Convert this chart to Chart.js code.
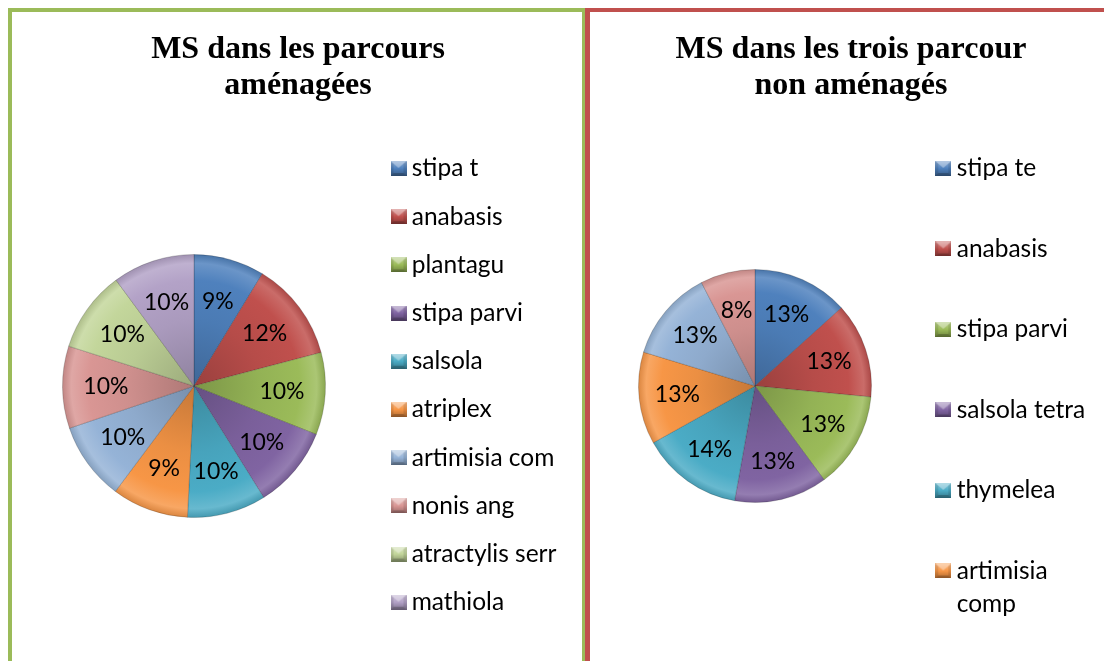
<!DOCTYPE html>
<html lang="fr">
<head>
<meta charset="utf-8">
<title>MS dans les parcours</title>
<script src="https://cdn.jsdelivr.net/npm/chart.js@4.4.1/dist/chart.umd.min.js"></script>
<style>
  html, body { margin: 0; padding: 0; background: #fff; overflow: hidden; }
  body { width: 1104px; height: 661px; position: relative; }
  .cadre { position: absolute; top: 8px; height: 700px; box-sizing: border-box; }
  #cadreAmenage { left: 8px; width: 578px; border: 4px solid #9BBB59; }
  #cadreNonAmenage { left: 585px; width: 540px; border: 4px solid #C0504D; border-left-width: 5px; }
  canvas { position: absolute; top: 12px; }
  #pieAmenage { left: 12px; }
  #pieNonAmenage { left: 590px; }
</style>
</head>
<body>
<div class="cadre" id="cadreAmenage"></div>
<div class="cadre" id="cadreNonAmenage"></div>
<canvas id="pieAmenage" width="570" height="649"></canvas>
<canvas id="pieNonAmenage" width="514" height="649"></canvas>
<script>
const especesAmenage = ['stipa t', 'anabasis', 'plantagu', 'stipa parvi', 'salsola', 'atriplex',
  'artimisia com', 'nonis ang', 'atractylis serr', 'mathiola'];
const msAmenage = [8.7, 12.2, 10.1, 10.1, 9.7, 9.4, 9.6, 10.1, 10.0, 10.1];

// dans l'original la légende est coupée après le 6e libellé
const especesNonAmenage = ['stipa te', 'anabasis', 'stipa parvi', 'salsola tetra', 'thymelea',
  'artimisia comp', 'espèce 7', 'espèce 8'];
const msNonAmenage = [13.3, 13.2, 13.4, 12.9, 14.1, 12.8, 12.7, 7.6];

const couleurs = ['#4F81BD', '#C0504D', '#9BBB59', '#8064A2', '#4BACC6', '#F79646',
  '#95B3D7', '#D99694', '#C3D69B', '#B3A2C7'];

Chart.defaults.font.family = 'Lato';

// t > 0 : vers le blanc, t < 0 : vers le noir
function melange(hex, t) {
  const n = parseInt(hex.slice(1), 16);
  const cible = t > 0 ? 255 : 0;
  const k = Math.abs(t);
  const canal = v => Math.round(v + (cible - v) * k);
  return `rgb(${canal(n >> 16)},${canal((n >> 8) & 255)},${canal(n & 255)})`;
}

// petit carré biseauté pour la légende
function repere(base) {
  const c = document.createElement('canvas');
  c.width = 16; c.height = 15;
  const x = c.getContext('2d');
  const g = x.createLinearGradient(0, 0, 0, 15);
  g.addColorStop(0, melange(base, 0.35));
  g.addColorStop(0.5, base);
  g.addColorStop(1, melange(base, -0.3));
  x.fillStyle = g;
  x.fillRect(0, 0, 16, 15);
  x.fillStyle = 'rgba(255,255,255,0.35)';
  x.beginPath(); x.moveTo(0, 0); x.lineTo(16, 0); x.lineTo(8, 7); x.fill();
  x.fillStyle = 'rgba(0,0,0,0.2)';
  x.beginPath(); x.moveTo(0, 15); x.lineTo(16, 15); x.lineTo(13, 12); x.lineTo(3, 12); x.fill();
  x.fillStyle = 'rgba(0,0,0,0.1)';
  x.beginPath(); x.moveTo(0, 0); x.lineTo(3, 3); x.lineTo(3, 12); x.lineTo(0, 15); x.fill();
  x.beginPath(); x.moveTo(16, 0); x.lineTo(13, 3); x.lineTo(13, 12); x.lineTo(16, 15); x.fill();
  return c;
}
const reperes = couleurs.map(repere);

// effet "relief" des parts : dégradé radial
function remplissage(p) {
  return (ctx) => {
    const base = couleurs[ctx.dataIndex % couleurs.length];
    const area = ctx.chart.chartArea;
    if (!area) return base;
    const g = ctx.chart.ctx.createRadialGradient(p.cx, p.cy, 0, p.cx, p.cy, p.r);
    g.addColorStop(0, melange(base, -0.2));
    g.addColorStop(0.5, melange(base, -0.05));
    g.addColorStop(0.8, base);
    g.addColorStop(0.93, melange(base, 0.16));
    g.addColorStop(1, melange(base, -0.12));
    return g;
  };
}

function decouper(ctx, texte, police, largeurMax, nbLignes) {
  ctx.font = `${police.size}px ${police.family}`;
  const lignes = [];
  let courante = '';
  texte.split(' ').forEach(mot => {
    const essai = courante ? courante + ' ' + mot : mot;
    if (courante && ctx.measureText(essai).width > largeurMax) {
      lignes.push(courante);
      courante = mot;
    } else {
      courante = essai;
    }
  });
  lignes.push(courante);
  while (lignes.length < nbLignes) lignes.push('');
  return lignes;
}

// place la zone du camembert, la légende et le titre comme dans l'original
const placement = {
  id: 'placement',
  afterLayout(chart, args, o) {
    Object.assign(chart.chartArea, {
      left: o.cx - o.r, right: o.cx + o.r, top: o.cy - o.r, bottom: o.cy + o.r,
      width: 2 * o.r, height: 2 * o.r
    });
    const lg = chart.legend;
    const pad = lg.options.labels.padding;
    const dx = o.curseurX - (lg.left + pad);
    const debut = (lg.top + pad + lg.bottom - lg.columnSizes[0].height) / 2;
    const dy = o.premierY - debut;
    lg.left += dx; lg.right += dx; lg.top += dy; lg.bottom += dy;
    const t = chart.titleBlock;
    const dt = o.titreX - (t.left + t.right) / 2;
    t.left += dt; t.right += dt;
  }
};

const etiquettesPct = {
  id: 'etiquettesPct',
  afterDatasetsDraw(chart) {
    const meta = chart.getDatasetMeta(0);
    const valeurs = chart.data.datasets[0].data;
    const total = valeurs.reduce((a, b) => a + b, 0);
    const c = chart.ctx;
    c.save();
    c.font = '23px Lato';
    c.fillStyle = '#000';
    c.textAlign = 'center';
    c.textBaseline = 'middle';
    meta.data.forEach((arc, i) => {
      const { x, y, startAngle, endAngle, outerRadius } =
        arc.getProps(['x', 'y', 'startAngle', 'endAngle', 'outerRadius'], true);
      const a = (startAngle + endAngle) / 2;
      const r = outerRadius * 0.67;
      c.fillText(Math.round(valeurs[i] / total * 100) + '%', x + Math.cos(a) * r, y + Math.sin(a) * r);
    });
    c.restore();
  }
};

function camembert(id, titre, especes, valeurs, p) {
  const police = { family: 'Lato', size: 24.5, lineHeight: p.interligne };
  const psw = 2 * (p.texteX - police.size / 2 - p.repereX);
  return new Chart(document.getElementById(id), {
    type: 'pie',
    data: {
      labels: especes,
      datasets: [{
        data: valeurs,
        backgroundColor: remplissage(p),
        borderColor: 'rgba(0,0,0,0.18)',
        borderWidth: 1,
        clip: false
      }]
    },
    options: {
      responsive: false,
      animation: false,
      events: [],
      plugins: {
        title: {
          display: true,
          text: titre,
          color: '#000',
          font: { family: 'Liberation Serif', size: 32, weight: 'bold', lineHeight: 1.13 },
          padding: { top: 19.5, bottom: 12 }
        },
        legend: {
          position: 'right',
          labels: {
            usePointStyle: true,
            pointStyleWidth: psw,
            padding: p.ecart,
            color: '#000',
            font: police,
            generateLabels: (chart) => chart.data.labels.slice(0, p.nbLegende).map((nom, i) => ({
              text: p.nbLignes ? decouper(chart.ctx, nom, police, p.largeurMax, p.nbLignes) : nom,
              pointStyle: reperes[i],
              fillStyle: couleurs[i],
              strokeStyle: couleurs[i],
              lineWidth: 0,
              fontColor: '#000',
              hidden: false,
              index: i,
              datasetIndex: 0
            }))
          }
        },
        tooltip: { enabled: false },
        placement: {
          cx: p.cx, cy: p.cy, r: p.r, titreX: p.titreX,
          curseurX: p.repereX - psw / 2, premierY: p.premierY
        }
      }
    },
    plugins: [placement, etiquettesPct]
  });
}

camembert('pieAmenage', ['MS dans les parcours', 'aménagées'], especesAmenage, msAmenage, {
  cx: 182, cy: 374, r: 132, titreX: 286,
  repereX: 386.5, texteX: 399.7, premierY: 144.2, ecart: 23.7,
  interligne: 1.2, nbLegende: 10, nbLignes: 0
});

camembert('pieNonAmenage', ['MS dans les trois parcour', 'non aménagés'], especesNonAmenage, msNonAmenage, {
  cx: 165, cy: 374, r: 117, titreX: 261,
  repereX: 353.3, texteX: 366.7, premierY: 144.2, ecart: 14.5,
  interligne: 33 / 24.5, nbLegende: 6, nbLignes: 2, largeurMax: 135
});
</script>
</body>
</html>
